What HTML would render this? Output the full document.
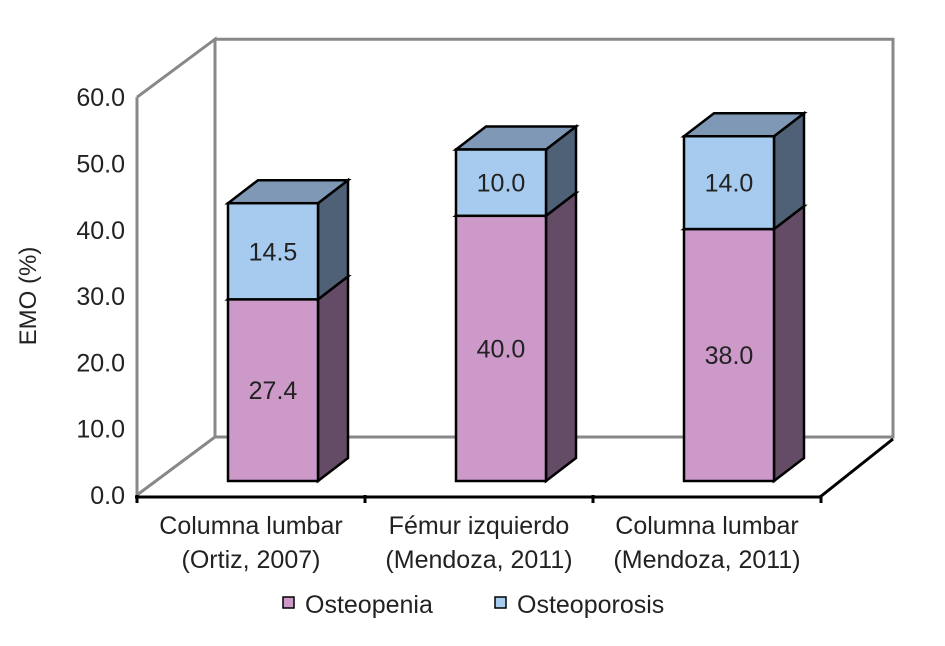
<!DOCTYPE html>
<html><head><meta charset="utf-8"><style>
body{margin:0;background:#fff;width:945px;height:641px;overflow:hidden}
text{font-family:"Liberation Sans Narrow","Liberation Sans",sans-serif}
</style></head><body>
<svg id="c" width="945" height="641"></svg>
<script>
const categories1=["Columna lumbar","Fémur izquierdo","Columna lumbar"];
const categories2=["(Ortiz, 2007)","(Mendoza, 2011)","(Mendoza, 2011)"];
const osteopenia=[27.4,40.0,38.0];
const osteoporosis=[14.5,10.0,14.0];
const ticks=[0,10,20,30,40,50,60];
const NS="http://www.w3.org/2000/svg";
const svg=document.getElementById('c');
function mk(t,a,p){const e=document.createElementNS(NS,t);for(const k in a)e.setAttribute(k,a[k]);(p||svg).appendChild(e);return e;}
const y0=495,pxPer=6.63,dx=78,dy=58,bdx=30,bdy=23;
const yA=v=>y0-v*pxPer;
const catX=i=>137+228*i+91;
let w=mk('polyline',{points:`137,${yA(60)} ${137+dx},${yA(60)-dy} ${137+dx},${y0-dy} ${137},${y0}`,fill:'none',stroke:'#888','stroke-width':3});

w=mk('polyline',{points:`${137+dx},${yA(60)-dy} ${893},${yA(60)-dy} ${893},${y0-dy} ${137+dx},${y0-dy}`,fill:'none',stroke:'#888','stroke-width':3});

w=mk('line',{x1:137,y1:y0,x2:137,y2:yA(60),stroke:'#888','stroke-width':3});

w=mk('polyline',{points:`135,${y0+2} 820,${y0+2} 893,${y0-dy+2}`,fill:'none',stroke:'#000','stroke-width':3});

for(let i=0;i<=3;i++){const t=mk('line',{x1:137+228*i,y1:y0,x2:137+228*i,y2:y0+8,stroke:'#000','stroke-width':3});
}
ticks.forEach(v=>{const t=mk('text',{x:125,y:yA(v)+9,'text-anchor':'end','font-size':25,fill:'#222'});t.textContent=v.toFixed(1);
});
const yt=mk('text',{transform:'translate(36,296) rotate(-90)','text-anchor':'middle','font-size':24,fill:'#222'});yt.textContent='EMO (%)';

function box(x,yb,yt2,front,side,top,name,label){
  const g=mk('g',{});
  const W=90,base=-14;
  const b=yb+base,t=yt2+base;
  mk('polygon',{points:`${x+W},${b} ${x+W+bdx},${b-bdy} ${x+W+bdx},${t-bdy} ${x+W},${t}`,fill:side,stroke:'#000','stroke-width':2.5},g);
  mk('polygon',{points:`${x},${t} ${x+bdx},${t-bdy} ${x+W+bdx},${t-bdy} ${x+W},${t}`,fill:top,stroke:'#000','stroke-width':2.5},g);
  mk('rect',{x:x,y:t,width:W,height:b-t,fill:front,stroke:'#000','stroke-width':2.5},g);
  const tx=mk('text',{x:x+W/2,y:(b+t)/2+9,'text-anchor':'middle','font-size':25,fill:'#222'},g);tx.textContent=label;
}
categories1.forEach((c,i)=>{
  const x=catX(i);
  box(x,yA(0),yA(osteopenia[i]),'#cc99c9','#654c66','#7e98b5','bar-osteopenia',osteopenia[i].toFixed(1));
  box(x,yA(osteopenia[i]),yA(osteopenia[i]+osteoporosis[i]),'#a6cbee','#4f6177','#7e98b5','bar-osteoporosis',osteoporosis[i].toFixed(1));
  const cx=137+228*i+114;
  const l1=mk('text',{x:cx,y:534,'text-anchor':'middle','font-size':25,fill:'#222'});l1.textContent=c;
  
  const l2=mk('text',{x:cx,y:568,'text-anchor':'middle','font-size':25,fill:'#222'});l2.textContent=categories2[i];
  
});
[['Osteopenia','#cc99c9',283],['Osteoporosis','#a6cbee',495]].forEach(([n,c,x])=>{
  const g=mk('g',{});
  mk('rect',{x:x,y:597,width:11,height:11,fill:c,stroke:'#000','stroke-width':1.5},g);
  const t=mk('text',{x:x+22,y:613,'font-size':25,fill:'#222'},g);t.textContent=n;
});
</script>
</body></html>
